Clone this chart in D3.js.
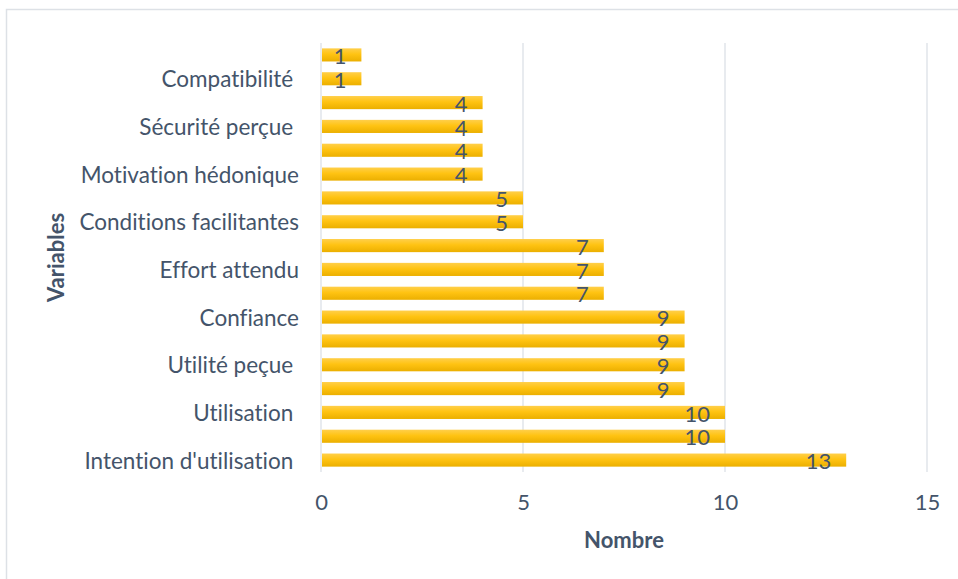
<!DOCTYPE html>
<html>
<head>
<meta charset="utf-8">
<script src="https://cdn.jsdelivr.net/npm/d3@7"></script>
<style>
  body { margin: 0; background: #fff; }
  text { font-family: Lato, "Open Sans", sans-serif; fill: #44546A; white-space: pre; font-variant-ligatures: none; }
</style>
</head>
<body>
<div id="chart"></div>
<script>
// categories from bottom to top; Excel only shows every other label
const categories = [
  "Intention d'utilisation ", "", "Utilisation ", "", "Utilité peçue ", "",
  "Confiance", "", "Effort attendu", "", "Conditions facilitantes", "",
  "Motivation hédonique", "", "Sécurité perçue ", "", "Compatibilité ", ""
];
const values = [13, 10, 10, 9, 9, 9, 9, 7, 7, 7, 5, 5, 4, 4, 4, 4, 1, 1];
const xTicks = [0, 5, 10, 15];

const W = 958, H = 579;
const plotL = 321, plotR = 927, plotT = 43, plotB = 472;

const svg = d3.select("#chart").append("svg")
    .attr("width", W)
    .attr("height", H);

// chart border
svg.append("rect")
    .attr("x", 6.5).attr("y", 9.5)
    .attr("width", W + 20).attr("height", H + 20)
    .attr("fill", "none")
    .attr("stroke", "#DDE1E6")
    .attr("stroke-width", 1.5);

const grad = svg.append("defs").append("linearGradient")
    .attr("id", "gold")
    .attr("x1", 0).attr("y1", 0).attr("x2", 0).attr("y2", 1);
grad.append("stop").attr("offset", "0%").attr("stop-color", "#FFCF4A");
grad.append("stop").attr("offset", "45%").attr("stop-color", "#FFC312");
grad.append("stop").attr("offset", "100%").attr("stop-color", "#EBAF00");

const x = d3.scaleLinear().domain([0, 15]).range([plotL, plotR]);
const y = d3.scaleBand()
    .domain(d3.range(categories.length))
    .range([plotB, plotT])
    .paddingInner(0.45)
    .paddingOuter(0.225);

// vertical gridlines
svg.append("g")
  .selectAll("line")
  .data(xTicks).enter()
  .append("line")
    .attr("x1", d => x(d)).attr("x2", d => x(d))
    .attr("y1", plotT).attr("y2", plotB)
    .attr("stroke", "#E1E5EA")
    .attr("stroke-width", 1.5);

// x axis tick labels
const xAxis = svg.append("g")
    .attr("transform", `translate(0,${plotB})`)
    .call(d3.axisBottom(x).tickValues(xTicks).tickSize(0).tickPadding(0));
xAxis.select(".domain").remove();
xAxis.selectAll("text")
    .attr("y", 38)
    .attr("dy", null)
    .style("font-size", "22px")
    .attr("fill", "#44546A");

// y axis labels (every other category)
const yAxis = svg.append("g")
    .attr("transform", `translate(${plotL},0)`)
    .call(d3.axisLeft(y)
        .tickValues(d3.range(0, categories.length, 2))
        .tickFormat(i => categories[i])
        .tickSize(0).tickPadding(0));
yAxis.select(".domain").remove();
yAxis.selectAll("text")
    .attr("x", -22)
    .attr("dy", "0.38em")
    .style("font-size", "22.5px")
    .attr("fill", "#44546A");

// bars
svg.append("g")
  .selectAll("rect")
  .data(values).enter()
  .append("rect")
    .attr("x", x(0) + 1)
    .attr("y", (d, i) => y(i))
    .attr("width", d => x(d) - x(0) - 1)
    .attr("height", y.bandwidth())
    .attr("fill", "url(#gold)");

// value labels, inside end
svg.append("g")
  .selectAll("text")
  .data(values).enter()
  .append("text")
    .attr("x", d => x(d) - 15)
    .attr("y", (d, i) => y(i) + y.bandwidth() / 2)
    .attr("dy", "0.42em")
    .attr("text-anchor", "end")
    .style("font-size", "22px")
    .text(d => d);

// axis titles
svg.append("text")
    .attr("x", (plotL + plotR) / 2)
    .attr("y", 548)
    .attr("text-anchor", "middle")
    .style("font-size", "22px")
    .style("font-weight", "bold")
    .text("Nombre");

svg.append("text")
    .attr("transform", `translate(64,${(plotT + plotB) / 2}) rotate(-90)`)
    .attr("text-anchor", "middle")
    .style("font-size", "22px")
    .style("font-weight", "bold")
    .text("Variables");
</script>
</body>
</html>
